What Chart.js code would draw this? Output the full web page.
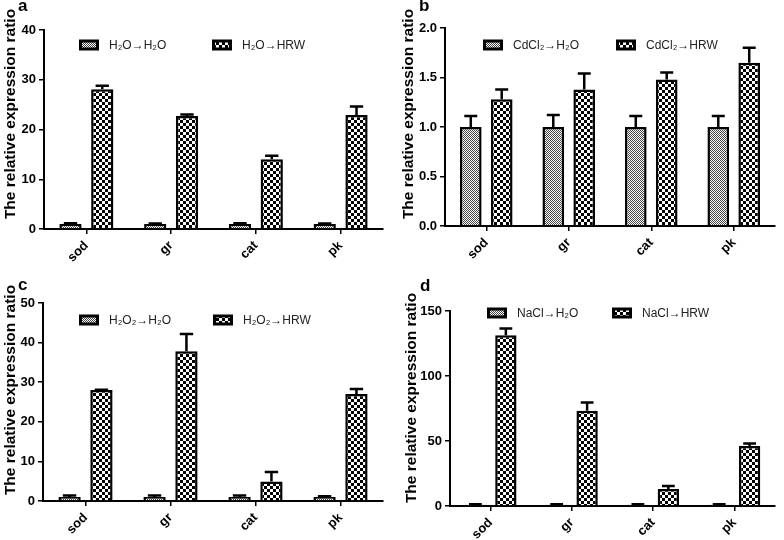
<!DOCTYPE html>
<html>
<head>
<meta charset="utf-8">
<script src="https://cdn.jsdelivr.net/npm/chart.js@4.4.1/dist/chart.umd.min.js"></script>
<style>
  body { margin: 0; background: #fff; }
  #wrap { position: relative; width: 784px; height: 540px; }
  canvas { position: absolute; }
  .tag { position: absolute; font: bold 17px Arial, "Liberation Sans", sans-serif; color: #000; }
  .ytitle {
    position: absolute; white-space: nowrap; color: #000;
    font: bold 15.5px Arial, "Liberation Sans", sans-serif;
    transform: translate(-50%, -50%) rotate(-90deg);
  }
</style>
</head>
<body>
<div id="wrap">
  <canvas id="pa" width="392" height="270" style="left:0;top:0"></canvas>
  <canvas id="pb" width="392" height="270" style="left:392px;top:0"></canvas>
  <canvas id="pc" width="392" height="270" style="left:0;top:270px"></canvas>
  <canvas id="pd" width="392" height="270" style="left:392px;top:270px"></canvas>
  <div class="tag" style="left:18px;top:-4px">a</div>
  <div class="tag" style="left:419px;top:-4px">b</div>
  <div class="tag" style="left:18px;top:275px">c</div>
  <div class="tag" style="left:420px;top:276px">d</div>
  <div class="ytitle" style="left:10px;top:114px">The relative expression ratio</div>
  <div class="ytitle" style="left:408px;top:114px">The relative expression ratio</div>
  <div class="ytitle" style="left:10px;top:390px">The relative expression ratio</div>
  <div class="ytitle" style="left:411px;top:398px">The relative expression ratio</div>
</div>
<script>
// genes on the x axis (same for all panels)
const genes = ['sod', 'gr', 'cat', 'pk'];

// a - H2O pretreatment
const labelsA = ['H₂O→H₂O', 'H₂O→HRW'];
const ctrlA = [1, 1, 1, 1];
const ctrlAErr = [0.15, 0.1, 0.15, 0.1];
const hrwA = [28.1, 22.7, 14.0, 22.9];
const hrwAErr = [0.7, 0.3, 0.7, 1.7];
const ticksA = [0, 10, 20, 30, 40];

// b - CdCl2
const labelsB = ['CdCl₂→H₂O', 'CdCl₂→HRW'];
const ctrlB = [1, 1, 1, 1];
const ctrlBErr = [0.11, 0.12, 0.11, 0.11];
const hrwB = [1.28, 1.38, 1.48, 1.65];
const hrwBErr = [0.10, 0.16, 0.07, 0.15];
const ticksB = [0, 0.5, 1.0, 1.5, 2.0];

// c - H2O2
const labelsC = ['H₂O₂→H₂O', 'H₂O₂→HRW'];
const ctrlC = [1, 1, 1, 1];
const ctrlCErr = [0.4, 0.4, 0.4, 0.2];
const hrwC = [28.0, 37.8, 4.9, 27.0];
const hrwCErr = [0.1, 4.4, 2.4, 1.3];
const ticksC = [0, 10, 20, 30, 40, 50];

// d - NaCl
const labelsD = ['NaCl→H₂O', 'NaCl→HRW'];
const ctrlD = [1, 1, 1, 1];
const ctrlDErr = [0.3, 0.3, 0.3, 0.3];
const hrwD = [131.3, 73.2, 13.1, 46.1];
const hrwDErr = [5.2, 6.4, 2.3, 2.0];
const ticksD = [0, 50, 100, 150];

const FONT = 'Arial, "Liberation Sans", sans-serif';

function finePattern(ctx) {
  const c = document.createElement('canvas');
  c.width = 2; c.height = 2;
  const g = c.getContext('2d');
  g.fillStyle = '#fff'; g.fillRect(0, 0, 2, 2);
  g.fillStyle = '#444'; g.fillRect(0, 0, 1, 1); g.fillRect(1, 1, 1, 1);
  return ctx.createPattern(c, 'repeat');
}

function checkPattern(ctx) {
  const c = document.createElement('canvas');
  c.width = 6; c.height = 6;
  const g = c.getContext('2d');
  g.fillStyle = '#fff'; g.fillRect(0, 0, 6, 6);
  g.fillStyle = '#000'; g.fillRect(0, 0, 3, 3); g.fillRect(3, 3, 3, 3);
  return ctx.createPattern(c, 'repeat');
}

// upper error bars with a cap
const errorBars = {
  id: 'errorBars',
  afterDatasetsDraw(chart) {
    const ctx = chart.ctx;
    const ys = chart.scales.y;
    ctx.save();
    ctx.strokeStyle = '#000';
    ctx.lineWidth = 2.5;
    chart.data.datasets.forEach((ds, i) => {
      chart.getDatasetMeta(i).data.forEach((bar, j) => {
        const top = ys.getPixelForValue(ds.data[j] + ds.errors[j]);
        const half = bar.width * 0.3;
        ctx.beginPath();
        ctx.moveTo(bar.x, bar.y);
        ctx.lineTo(bar.x, top);
        ctx.moveTo(bar.x - half, top);
        ctx.lineTo(bar.x + half, top);
        ctx.stroke();
      });
    });
    ctx.restore();
  }
};

// legend drawn inside the plot area
const innerLegend = {
  id: 'innerLegend',
  afterDraw(chart, args, opts) {
    const ctx = chart.ctx;
    ctx.save();
    chart.data.datasets.forEach((ds, i) => {
      const x = opts.xs[i], y = opts.y;
      ctx.fillStyle = '#000';
      ctx.fillRect(x, y - 5.5, 20, 11);
      ctx.fillStyle = ds.backgroundColor;
      ctx.fillRect(x + 3, y - 2.5, 14, 5);
      ctx.fillStyle = '#222';
      ctx.font = '12px ' + FONT;
      ctx.textBaseline = 'middle';
      ctx.fillText(ds.label, x + 30, y + 0.5);
    });
    ctx.restore();
  }
};

function makePanel(id, labels, ctrl, ctrlErr, hrw, hrwErr, ticks, box, legend, decimals) {
  const canvas = document.getElementById(id);
  const ctx = canvas.getContext('2d');
  return new Chart(ctx, {
    type: 'bar',
    data: {
      labels: genes,
      datasets: [
        {
          label: labels[0],
          data: ctrl,
          errors: ctrlErr,
          backgroundColor: finePattern(ctx),
          borderColor: '#000',
          borderWidth: 2.5
        },
        {
          label: labels[1],
          data: hrw,
          errors: hrwErr,
          backgroundColor: checkPattern(ctx),
          borderColor: '#000',
          borderWidth: 2.5
        }
      ]
    },
    options: {
      responsive: false,
      animation: false,
      categoryPercentage: 0.75,
      barPercentage: 0.7,
      layout: { padding: { top: box.top, right: 9, bottom: 0, left: 0 } },
      plugins: {
        legend: { display: false },
        tooltip: { enabled: false },
        innerLegend: legend
      },
      scales: {
        x: {
          grid: { drawOnChartArea: false, offset: false, tickLength: 5, color: '#000', lineWidth: 1.5 },
          border: { display: true, color: '#000', width: 2 },
          ticks: {
            color: '#000', autoSkip: false, minRotation: 45, maxRotation: 45, padding: 4,
            font: { family: FONT, size: 13, weight: 'bold' }
          },
          afterFit(axis) { axis.height = 270 - box.bottom; }
        },
        y: {
          min: ticks[0],
          max: ticks[ticks.length - 1],
          afterBuildTicks(axis) { axis.ticks = ticks.map(v => ({ value: v })); },
          grid: { drawOnChartArea: false, tickLength: 5, color: '#000', lineWidth: 1.5 },
          border: { display: true, color: '#000', width: 2 },
          ticks: {
            color: '#000', padding: 3,
            font: { family: FONT, size: 13, weight: 'bold' },
            callback: v => v.toFixed(decimals)
          },
          afterFit(axis) { axis.width = box.left; }
        }
      }
    },
    plugins: [errorBars, innerLegend]
  });
}

makePanel('pa', labelsA, ctrlA, ctrlAErr, hrwA, hrwAErr, ticksA,
  { left: 44, top: 30, bottom: 229 }, { xs: [79, 212], y: 45 }, 0);
makePanel('pb', labelsB, ctrlB, ctrlBErr, hrwB, hrwBErr, ticksB,
  { left: 53, top: 28, bottom: 226 }, { xs: [91, 224], y: 45 }, 1);
makePanel('pc', labelsC, ctrlC, ctrlCErr, hrwC, hrwCErr, ticksC,
  { left: 43, top: 33, bottom: 231 }, { xs: [79, 213], y: 50 }, 0);
makePanel('pd', labelsD, ctrlD, ctrlDErr, hrwD, hrwDErr, ticksD,
  { left: 58, top: 41, bottom: 236 }, { xs: [95, 220], y: 43 }, 0);
</script>
</body>
</html>
